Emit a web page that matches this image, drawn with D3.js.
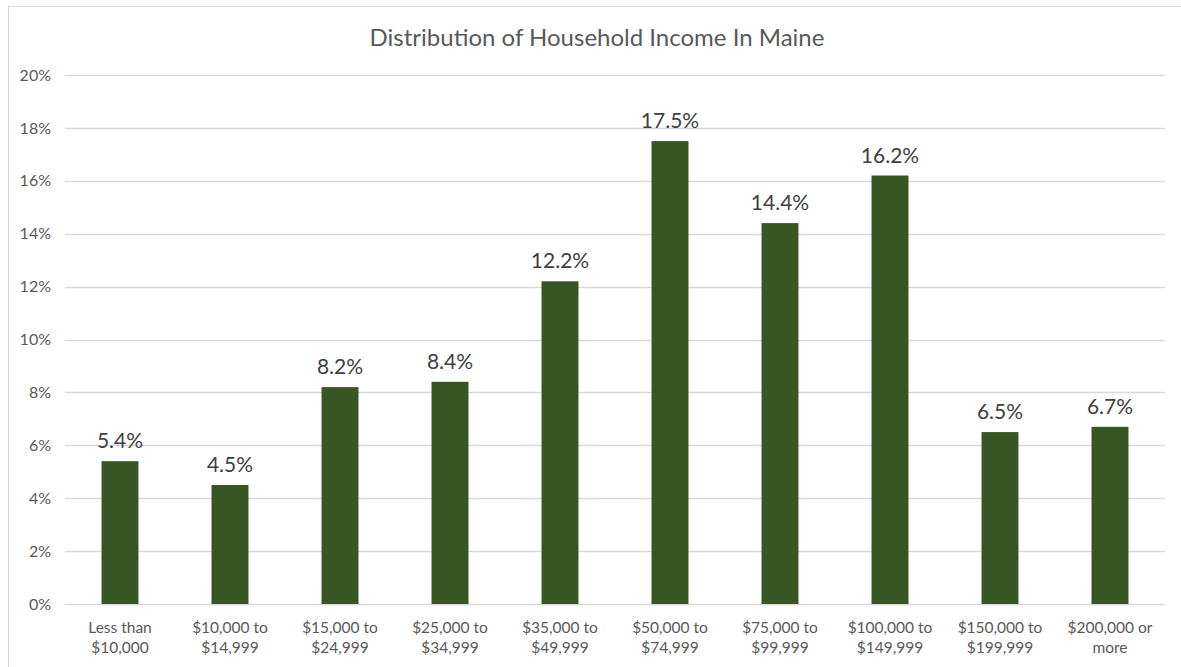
<!DOCTYPE html>
<html><head><meta charset="utf-8">
<script src="https://cdn.jsdelivr.net/npm/d3@7"></script>
<style>body{margin:0;background:#fff}svg{display:block}</style>
</head><body>
<script>
const categories = [["Less than","$10,000"],["$10,000 to","$14,999"],["$15,000 to","$24,999"],["$25,000 to","$34,999"],["$35,000 to","$49,999"],["$50,000 to","$74,999"],["$75,000 to","$99,999"],["$100,000 to","$149,999"],["$150,000 to","$199,999"],["$200,000 or","more"]];
const values = [5.4, 4.5, 8.2, 8.4, 12.2, 17.5, 14.4, 16.2, 6.5, 6.7];
const yTicks = [0, 2, 4, 6, 8, 10, 12, 14, 16, 18, 20];
const title = "Distribution of Household Income In Maine";

const W = 1181, H = 667;
const font = "Lato, 'Open Sans', sans-serif";
const svg = d3.select("body").append("svg").attr("width", W).attr("height", H);
svg.append("rect").attr("x", 8.5).attr("y", 6.5).attr("width", W + 10).attr("height", H + 10)
  .attr("fill", "#fff").attr("stroke", "#d9d9d9");

const x = d3.scaleBand().domain(d3.range(categories.length)).range([65, 1165]).paddingInner(0.664).paddingOuter(0.332);
const y = d3.scaleLinear().domain([0, 20]).range([604, 75]);

svg.append("text").attr("x", 597).attr("y", 46).attr("text-anchor", "middle")
  .attr("font-family", font).attr("font-size", 24).attr("fill", "#595959").text(title);

const grid = svg.append("g");
grid.selectAll("line").data(yTicks).join("line")
  .attr("x1", 65).attr("x2", 1165).attr("y1", d => Math.round(y(d)) + 0.5).attr("y2", d => Math.round(y(d)) + 0.5)
  .attr("stroke", "#d9d9d9").attr("stroke-width", 1.3);

const yAxis = d3.axisLeft(y).tickValues(yTicks).tickFormat(d => d + "%").tickSize(0).tickPadding(0);
const ya = svg.append("g").attr("transform", "translate(51,0)").call(yAxis);
ya.select(".domain").remove();
ya.selectAll("text").attr("font-family", font).attr("font-size", 16).attr("fill", "#595959");

svg.append("g").selectAll("rect").data(values).join("rect")
  .attr("x", (d, i) => x(i)).attr("width", x.bandwidth())
  .attr("y", d => y(d)).attr("height", d => y(0) - y(d)).attr("fill", "#375623");

svg.append("g").selectAll("text").data(values).join("text")
  .attr("x", (d, i) => x(i) + x.bandwidth() / 2).attr("y", d => y(d) - 13)
  .attr("text-anchor", "middle").attr("font-family", font).attr("font-size", 21).attr("fill", "#404040")
  .text(d => d.toFixed(1) + "%");

const xl = svg.append("g");
categories.forEach((c, i) => {
  const t = xl.append("text").attr("x", x(i) + x.bandwidth() / 2).attr("y", 633)
    .attr("text-anchor", "middle").attr("font-family", font).attr("font-size", 15.5).attr("fill", "#595959");
  c.forEach((line, j) => t.append("tspan").attr("x", x(i) + x.bandwidth() / 2).attr("dy", j ? 20 : 0).text(line));
});
</script>
</body></html>
